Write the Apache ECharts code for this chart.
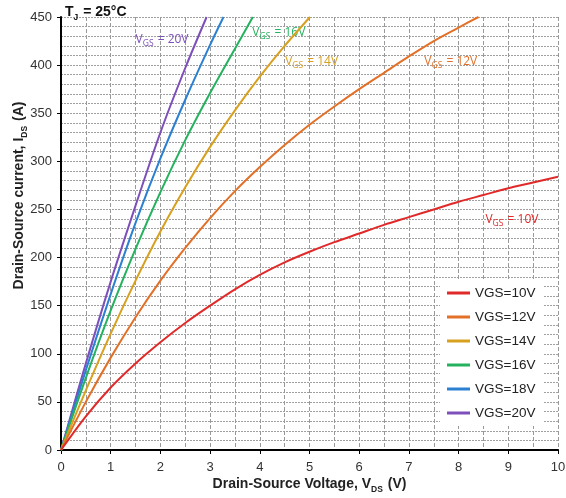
<!DOCTYPE html>
<html>
<head>
<meta charset="utf-8">
<script src="https://cdn.jsdelivr.net/npm/echarts@6/dist/echarts.min.js"></script>
<style>html,body{margin:0;padding:0;background:#fff;}#c{width:566px;height:498px;}</style>
</head>
<body>
<div id="c"></div>
<script>
// ---- Data ----
const seriesNames = ['VGS=10V', 'VGS=12V', 'VGS=14V', 'VGS=16V', 'VGS=18V', 'VGS=20V'];
const vds10 = [0, 0.5, 1, 1.5, 2, 2.5, 3, 3.5, 4, 4.5, 5, 5.5, 6, 6.5, 7, 7.5, 8, 8.5, 9, 9.5, 10];
const ids10 = [0, 35, 65, 90, 112, 132, 150, 167, 182, 195, 206, 216, 225, 234, 242, 250, 258, 265, 272, 278, 284];
const vds12 = [0, 0.5, 1, 1.5, 2, 2.5, 3, 3.5, 4, 4.5, 5, 5.5, 6, 6.5, 7, 7.5, 8, 8.4];
const ids12 = [0, 50, 96, 138, 176, 210, 241, 269, 294, 317, 338, 357, 375, 392, 409, 425, 439, 450];
const vds14 = [0, 0.5, 1, 1.5, 2, 2.5, 3, 3.5, 4, 4.5, 5.01];
const ids14 = [0, 62, 121, 176, 227, 273, 315, 353, 388, 420, 450];
const vds16 = [0, 0.5, 1, 1.5, 2, 2.5, 3, 3.5, 3.86];
const ids16 = [0, 75, 145, 209, 268, 322, 371, 417, 450];
const vds18 = [0, 0.5, 1, 1.5, 2, 2.5, 3, 3.27];
const ids18 = [0, 83, 162, 236, 303, 364, 421, 450];
const vds20 = [0, 0.5, 1, 1.5, 2, 2.5, 2.93];
const ids20 = [0, 90, 175, 254, 330, 397, 450];
const xTicks = [0, 1, 2, 3, 4, 5, 6, 7, 8, 9, 10];
const yTicks = [0, 50, 100, 150, 200, 250, 300, 350, 400, 450];
// annotation anchors (data units) and texts
const annoVds = [8.53, 7.3, 4.5, 3.84, null, 1.49];
const annoIds = [241, 405, 405, 435, null, 428];
const annoText = ['10V', '12V', '14V', '16V', null, '20V'];

// ---- Styles ----
const colors = ['#E02A2A', '#E27027', '#D8A01F', '#24B25E', '#2B80D2', '#7D4FBB'];
const vdsList = [vds10, vds12, vds14, vds16, vds18, vds20];
const idsList = [ids10, ids12, ids14, ids16, ids18, ids20];
const FONT = 'Liberation Sans, Arial, sans-serif';

function subRich(color, size, subSize, bold) {
  return {
    b: { fontFamily: FONT, fontWeight: bold ? 'bold' : 'normal', fontSize: size, color: color, verticalAlign: 'bottom', lineHeight: size + 2 },
    s: { fontFamily: FONT, fontWeight: bold ? 'bold' : 'normal', fontSize: subSize, color: color, verticalAlign: 'bottom', lineHeight: subSize, padding: [0, 1, -3, 0] }
  };
}

const series = seriesNames.map((name, i) => {
  const s = {
    name: name,
    type: 'line',
    smooth: 0.3,
    showSymbol: false,
    symbol: 'none',
    color: colors[i],
    lineStyle: { width: 2, color: colors[i] },
    data: vdsList[i].map((v, k) => [v, idsList[i][k]]),
    z: 3 + (5 - i)
  };
  if (annoText[i]) {
    s.markPoint = {
      symbol: 'circle',
      symbolSize: 1,
      itemStyle: { color: 'rgba(0,0,0,0)' },
      silent: true,
      data: [{
        coord: [annoVds[i], annoIds[i]],
        label: {
          show: true,
          position: 'right',
          distance: 0,
          formatter: '{m|V}{s|GS}{m| = ' + annoText[i] + '}',
          rich: {
            m: { fontFamily: 'Open Sans, sans-serif', fontSize: 12, color: colors[i], verticalAlign: 'bottom', lineHeight: 14 },
            s: { fontFamily: 'Open Sans, sans-serif', fontSize: 8.5, color: colors[i], verticalAlign: 'bottom', lineHeight: 8, padding: [0, 1, -3, 0] }
          }
        }
      }]
    };
  }
  return s;
});

const chart = echarts.init(document.getElementById('c'), null, { renderer: 'canvas' });
chart.setOption({
  animation: false,
  backgroundColor: '#fff',
  title: {
    left: 60, top: -2,
    text: '{b|T}{s|J}{b| = 25°C}',
    textStyle: { rich: subRich('#111', 14, 8.5, true) }
  },
  grid: { left: 61, right: 8, top: 17, bottom: 48, containLabel: false, outerBoundsMode: 'none' },
  legend: {
    orient: 'vertical',
    left: 440, top: 280,
    backgroundColor: '#fff',
    padding: [6, 8, 6, 7],
    itemGap: 10,
    itemWidth: 23,
    itemHeight: 3,
    icon: 'rect',
    textStyle: { fontFamily: FONT, fontSize: 13.5, color: '#222' },
    data: seriesNames
  },
  xAxis: {
    type: 'value', min: xTicks[0], max: xTicks[xTicks.length - 1], interval: 1,
    name: '{b|Drain-Source Voltage, V}{s|DS}{b| (V)}',
    nameLocation: 'middle', nameGap: 25, nameMoveOverlap: false,
    nameTextStyle: { rich: subRich('#222', 14, 8.5, true) },
    axisLine: { show: true, onZero: false, lineStyle: { color: '#000', width: 2 } },
    axisTick: { show: true, length: 4, lineStyle: { color: '#000', width: 1 } },
    axisLabel: { fontFamily: FONT, fontSize: 13, color: '#333', margin: 11 },
    splitLine: { show: true, lineStyle: { color: '#999', width: 1, type: [4, 2] } },
    minorTick: { show: false, splitNumber: 2 },
    minorSplitLine: { show: true, lineStyle: { color: '#999', width: 1, type: [4, 2] } }
  },
  yAxis: {
    type: 'value', min: yTicks[0], max: yTicks[yTicks.length - 1], interval: 50,
    name: '{b|Drain-Source current, I}{s|DS}{b| (A)}',
    nameLocation: 'middle', nameGap: 35, nameRotate: 90, nameMoveOverlap: false,
    nameTextStyle: { rich: subRich('#222', 14, 8.5, true), padding: [0, 0, 0, 76] },
    axisLine: { show: true, onZero: false, lineStyle: { color: '#000', width: 2 } },
    axisTick: { show: true, length: 4, lineStyle: { color: '#000', width: 1 } },
    axisLabel: { fontFamily: FONT, fontSize: 13, color: '#333', margin: 9 },
    splitLine: { show: true, lineStyle: { color: '#a0a0a0', width: 1, type: [2, 1] } },
    minorTick: { show: false, splitNumber: 5 },
    minorSplitLine: { show: true, lineStyle: { color: '#a0a0a0', width: 1, type: [2, 1] } }
  },
  series: series
});
</script>
</body>
</html>
